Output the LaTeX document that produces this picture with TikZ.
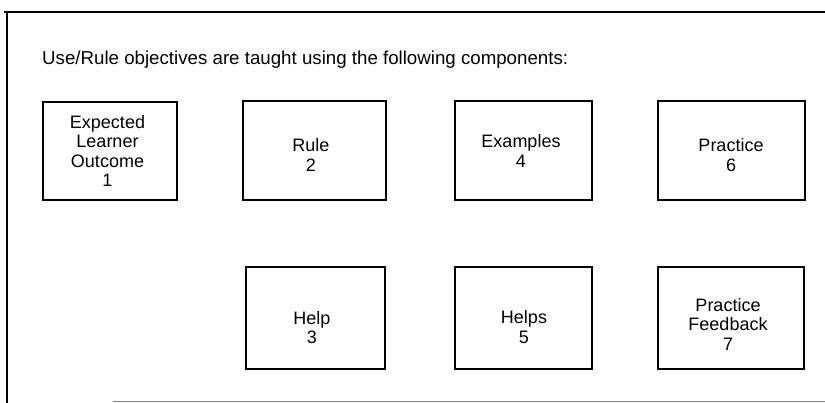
\documentclass[tikz,border=0pt]{standalone}
\usepackage{fontspec}
\setmainfont{Liberation Sans}
\tikzset{
  comptext/.style={font=\fontsize{18}{19.5}\selectfont, align=center, inner sep=0pt},
  titletext/.style={font=\fontsize{18.7}{20}\selectfont, inner sep=0pt},
  compbox/.style={draw, line width=1.6pt, inner sep=0pt, minimum width=#1}
}
\begin{document}
\begin{tikzpicture}[x=1pt, y=-1pt]
    \useasboundingbox (0,0) rectangle (825,403);
    \coordinate (frametl) at (4,12);
    \coordinate (frametr) at (825,12);
    \coordinate (framecorner) at (7,12);
    \coordinate (framebl) at (7,403);
    \coordinate (bottoml) at (113,401.5);
    \coordinate (bottomr) at (825,401.5);
    \draw[line width=2pt] (frametl) -- (frametr);
    \draw[line width=1.8pt] (framecorner) -- (framebl);
    \draw[gray, line width=1pt] (bottoml) -- (bottomr);
    \node[titletext, anchor=base west] (title) at (42,65) {Use/Rule objectives are taught using the following components:};
    \node[compbox=134pt, minimum height=98pt] (outcome) at (109.7,151) {};
    \node[compbox=143pt, minimum height=99pt] (rule) at (314.5,150.5) {};
    \node[compbox=137pt, minimum height=99pt] (examples) at (523.5,150.5) {};
    \node[compbox=147pt, minimum height=99pt] (practice) at (731.5,150.5) {};
    \node[compbox=139pt, minimum height=102pt] (help) at (315.5,318) {};
    \node[compbox=137pt, minimum height=102pt] (helps) at (523.5,318) {};
    \node[compbox=146pt, minimum height=102pt] (feedback) at (731,318) {};
    \node[comptext] (outcome-t) at (107.5,151) {Expected\\Learner\\Outcome\\1};
    \node[comptext] (rule-t) at (311,155) {Rule\\2};
    \node[comptext] (examples-t) at (521,151) {Examples\\4};
    \node[comptext] (practice-t) at (731,155) {Practice\\6};
    \node[comptext] (help-t) at (312,327.5) {Help\\3};
    \node[comptext] (helps-t) at (524,327) {Helps\\5};
    \node[comptext] (feedback-t) at (728,324) {Practice\\Feedback\\7};
\end{tikzpicture}
\end{document}
